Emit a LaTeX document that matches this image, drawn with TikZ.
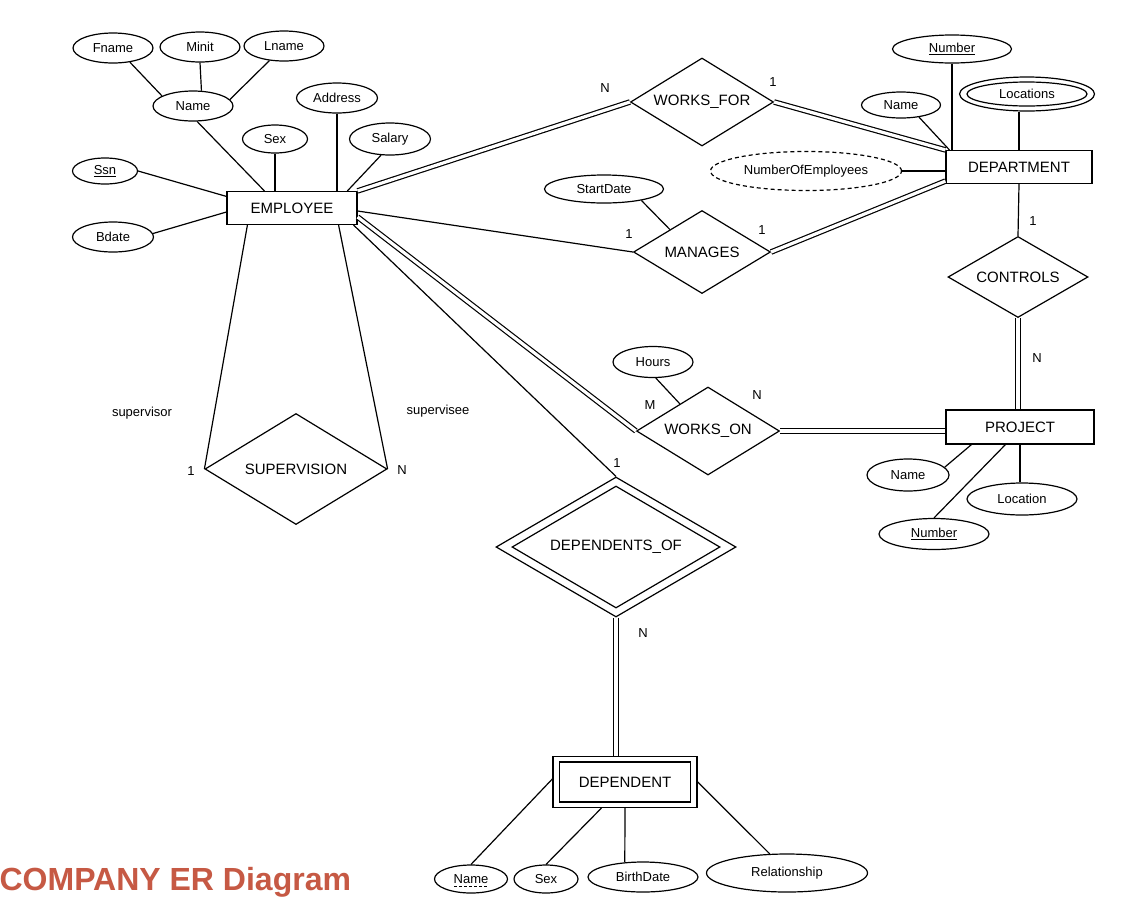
\documentclass[tikz,border=0pt]{standalone}
\usepackage{fontspec}
\setmainfont{Liberation Sans}
\usetikzlibrary{shapes.geometric,calc}
\definecolor{titlered}{RGB}{198,89,68}
\newcommand{\attrsize}{\fontsize{13}{15}\selectfont}
\newcommand{\entsize}{\fontsize{15}{17}\selectfont}
\begin{document}
\begin{tikzpicture}[x=1pt,y=-1pt,line width=1.2pt,
  attr/.style={ellipse, draw, inner sep=0pt, font=\attrsize},
  ent/.style={rectangle, draw, inner sep=0pt, font=\entsize},
  rel/.style={diamond, draw, inner sep=0pt, aspect=1.65, font=\entsize},
  card/.style={inner sep=0pt, font=\attrsize},
  dbl/.style={double, double distance=3.2pt},
  derived/.style={dashed, dash pattern=on 4pt off 3pt}]
\useasboundingbox (0,0) rectangle (1148,922);
\fill[white] (0,0) rectangle (1148,922);

% EMPLOYEE and attributes
\node[ent, minimum width=130pt, minimum height=33pt] (emp) at (292,208) {EMPLOYEE};
\node[attr, minimum width=80pt, minimum height=30pt] (fname) at (113,48) {Fname};
\node[attr, minimum width=80pt, minimum height=30pt] (minit) at (200,47) {Minit};
\node[attr, minimum width=80pt, minimum height=30pt] (lname) at (284,46) {Lname};
\node[attr, minimum width=80pt, minimum height=30pt] (ename) at (193,106) {Name};
\node[attr, minimum width=81pt, minimum height=30pt] (addr) at (337,98) {Address};
\node[attr, minimum width=65pt, minimum height=28pt] (esex) at (275,139) {Sex};
\node[attr, minimum width=81pt, minimum height=32pt] (salary) at (390,139) {Salary};
\node[attr, minimum width=65pt, minimum height=26pt] (ssn) at (105,171) {\underline{Ssn}};
\node[attr, minimum width=81pt, minimum height=30pt] (bdate) at (113,237) {Bdate};

% relationships
\node[rel, minimum width=143pt, minimum height=88pt] (wf) at (702,102) {WORKS\_FOR};
\node[rel, minimum width=137pt, minimum height=83pt] (man) at (702,252) {MANAGES};
\node[rel, minimum width=140pt, minimum height=81pt] (ctl) at (1018,277) {CONTROLS};
\node[rel, minimum width=143pt, minimum height=88pt] (won) at (708,431) {WORKS\_ON};
\node[rel, minimum width=182pt, minimum height=111pt] (sup) at (296,469) {SUPERVISION};
\node[rel, minimum width=240pt, minimum height=140pt] (depof) at (616,547) {DEPENDENTS\_OF};
\node[diamond, draw, inner sep=0pt, minimum width=208pt, minimum height=122pt] (depofin) at (depof) {};

% DEPARTMENT and attributes
\node[ent, minimum width=146pt, minimum height=33pt] (dept) at (1019,167) {DEPARTMENT};
\node[attr, minimum width=119pt, minimum height=28pt] (sd) at (604,189) {StartDate};
\node[attr, derived, minimum width=191pt, minimum height=39pt] (noe) at (806,171) {NumberOfEmployees};
\node[attr, minimum width=119pt, minimum height=28pt] (dnum) at (952,49) {\underline{Number}};
\node[attr, minimum width=79pt, minimum height=26pt] (dname) at (901,105) {Name};
\node[attr, minimum width=135pt, minimum height=34pt] (loc) at (1027,94) {Locations};
\node[ellipse, draw, inner sep=0pt, minimum width=120pt, minimum height=24pt] (locin) at (loc) {};

% PROJECT and attributes
\node[ent, minimum width=148pt, minimum height=34pt] (proj) at (1020,427) {PROJECT};
\node[attr, minimum width=80pt, minimum height=31pt] (hours) at (653,362) {Hours};
\node[attr, minimum width=82pt, minimum height=32pt] (pname) at (908,475) {Name};
\node[attr, minimum width=110pt, minimum height=32pt] (ploc) at (1022,499) {Location};
\node[attr, minimum width=110pt, minimum height=31pt] (pnum) at (934,534) {\underline{Number}};

% DEPENDENT and attributes
\node[ent, minimum width=144pt, minimum height=51pt] (dep) at (625,782) {DEPENDENT};
\node[rectangle, draw, inner sep=0pt, minimum width=131pt, minimum height=40pt] (depin) at (dep) {};
\node[attr, minimum width=73pt, minimum height=28pt] (dpname) at (471,879) {Name};
\draw[line width=0.9pt, dash pattern=on 3pt off 2pt] ([xshift=-17pt,yshift=-7.5pt]dpname.center) -- ([xshift=17pt,yshift=-7.5pt]dpname.center);
\node[attr, minimum width=64pt, minimum height=28pt] (dpsex) at (546,879) {Sex};
\node[attr, minimum width=110pt, minimum height=30pt] (dpbd) at (643,877) {BirthDate};
\node[attr, minimum width=161pt, minimum height=38pt] (dprel) at (787,873) {Relationship};

% attribute connectors
\draw (fname.-40) -- (ename.162);
\draw (minit.south) -- (ename.61);
\draw (lname.-135) -- (ename.10);
\draw (ename.-75) -- ([xshift=38pt]emp.north west);
\draw (esex) -- (esex |- emp.north);
\draw (addr) -- (addr |- emp.north);
\draw (salary.-119) -- ([xshift=121pt]emp.north west);
\draw (ssn.east) -- ([yshift=-5.5pt]emp.north west);
\draw (bdate.5) -- ([yshift=-4pt]emp.west);
\draw (sd.-17) -- (man.145);
\draw (noe.east) -- (noe.east -| dept.west);
\draw (dnum) -- (dnum |- dept.north);
\draw (dname.-34) -- ([xshift=4pt]dept.north west);
\draw (dept.north) -- (dept.north |- loc.south);
\draw (hours.-80) -- (won.136);
\draw (pname.12) -- ([xshift=26pt]proj.south west);
\draw (pnum.north) -- ([xshift=60pt]proj.south west);
\draw (proj.south) -- (proj.south |- ploc.north);
\draw (dpname.north) -- ([yshift=-23pt]dep.north west);
\draw (dpsex.north) -- ([xshift=49pt]dep.south west);
\draw (dep.south) -- (dpbd.141.7);
\draw (dprel.132) -- ([yshift=-26pt]dep.north east);

% relationship connectors
\draw[dbl] (emp.north east) -- (wf.west);
\draw[dbl] (wf.east) -- (dept.north west);
\draw ([yshift=-3pt]emp.east) -- (man.west);
\draw[dbl] (man.east) -- ([yshift=3pt]dept.south west);
\draw (dept.south) -- (ctl.north);
\draw[dbl] (ctl.south) -- (ctl.south |- proj.north);
\draw[dbl] ([yshift=-9pt]emp.east) -- (won.west);
\draw[dbl] (won.east) -- (won.east -| proj.west);
\draw ([xshift=-4pt]emp.south east) -- (depof.north);
\draw[dbl] (depof.south) -- (depof.south |- dep.north);
\draw ([xshift=21pt]emp.south west) -- (sup.west);
\draw ([xshift=-19pt]emp.south east) -- (sup.east);

% cardinalities and roles
\node[card] (cwfn) at (605,88) {N};
\node[card] (cwf1) at (773,82) {1};
\node[card] (cman1) at (629,234) {1};
\node[card] (cman2) at (762,230) {1};
\node[card] (cctl1) at (1033,221) {1};
\node[card] (cctln) at (1037,358) {N};
\node[card] (cwonm) at (650,405) {M};
\node[card] (cwonn) at (757,395) {N};
\node[card] (cdep1) at (617,463) {1};
\node[card] (cdepn) at (643,633) {N};
\node[card] (csup1) at (191,471) {1};
\node[card] (csupn) at (402,470) {N};
\node[card] (rsupr) at (142,413) {supervisor};
\node[card] (rsupe) at (438,411) {supervisee};

% title
\node[anchor=base west, inner sep=0pt, text=titlered, font=\fontsize{32}{35}\selectfont\bfseries] (title) at (-1,890) {COMPANY ER Diagram};
\end{tikzpicture}
\end{document}
